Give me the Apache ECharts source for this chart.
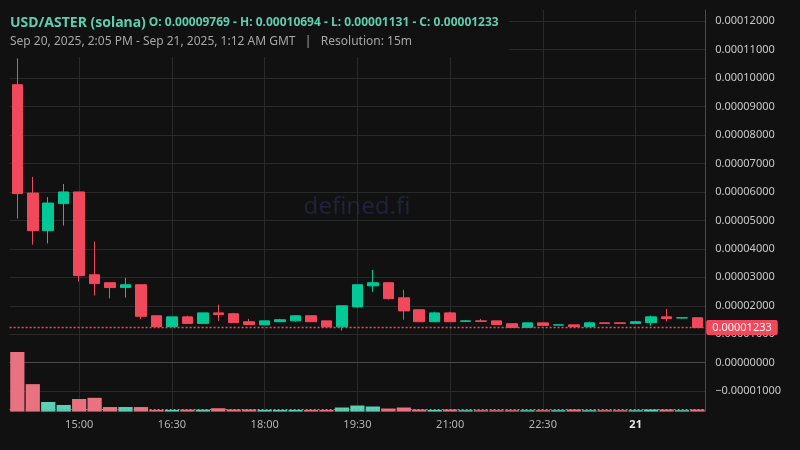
<!DOCTYPE html>
<html>
<head>
<meta charset="utf-8">
<script src="https://cdn.jsdelivr.net/npm/echarts@6/dist/echarts.min.js"></script>
<style>
html,body{margin:0;padding:0;background:#111111;}
#c{width:800px;height:450px;}
</style>
</head>
<body>
<div id="c"></div>
<script>
// ---- data (15m candles, Sep 20 14:00 -> Sep 21 01:00 GMT) ----
const times = ['14:00','14:15','14:30','14:45','15:00','15:15','15:30','15:45','16:00','16:15',
  '16:30','16:45','17:00','17:15','17:30','17:45','18:00','18:15','18:30','18:45',
  '19:00','19:15','19:30','19:45','20:00','20:15','20:30','20:45','21:00','21:15',
  '21:30','21:45','22:00','22:15','22:30','22:45','23:00','23:15','23:30','23:45',
  '00:00','00:15','00:30','00:45','01:00'];
const opens = [9.769e-5,5.96e-5,4.64e-5,5.59e-5,6.00e-5,3.09e-5,2.81e-5,2.64e-5,2.74e-5,1.65e-5,
  1.27e-5,1.61e-5,1.38e-5,1.75e-5,1.72e-5,1.44e-5,1.33e-5,1.44e-5,1.47e-5,1.65e-5,
  1.47e-5,1.26e-5,1.96e-5,2.70e-5,2.81e-5,2.28e-5,1.86e-5,1.44e-5,1.75e-5,1.45e-5,
  1.47e-5,1.47e-5,1.37e-5,1.24e-5,1.40e-5,1.32e-5,1.33e-5,1.27e-5,1.40e-5,1.40e-5,
  1.38e-5,1.41e-5,1.61e-5,1.57e-5,1.58e-5];
const closes = [5.94e-5,4.64e-5,5.61e-5,6.00e-5,3.06e-5,2.78e-5,2.64e-5,2.74e-5,1.63e-5,1.27e-5,
  1.61e-5,1.38e-5,1.75e-5,1.69e-5,1.41e-5,1.34e-5,1.47e-5,1.51e-5,1.65e-5,1.44e-5,
  1.26e-5,2.00e-5,2.74e-5,2.81e-5,2.25e-5,1.82e-5,1.44e-5,1.75e-5,1.44e-5,1.47e-5,
  1.45e-5,1.34e-5,1.24e-5,1.40e-5,1.31e-5,1.33e-5,1.27e-5,1.40e-5,1.38e-5,1.38e-5,
  1.44e-5,1.61e-5,1.55e-5,1.58e-5,1.233e-5];
const lows = [5.06e-5,4.15e-5,4.19e-5,4.82e-5,2.85e-5,2.36e-5,2.26e-5,2.29e-5,1.53e-5,1.27e-5,
  1.27e-5,1.38e-5,1.38e-5,1.47e-5,1.41e-5,1.34e-5,1.33e-5,1.44e-5,1.44e-5,1.44e-5,
  1.26e-5,1.131e-5,1.94e-5,2.49e-5,2.22e-5,1.51e-5,1.44e-5,1.44e-5,1.44e-5,1.45e-5,
  1.45e-5,1.34e-5,1.24e-5,1.24e-5,1.31e-5,1.32e-5,1.27e-5,1.27e-5,1.38e-5,1.38e-5,
  1.38e-5,1.30e-5,1.45e-5,1.54e-5,1.233e-5];
const highs = [10.694e-5,6.53e-5,5.82e-5,6.28e-5,6.00e-5,4.25e-5,2.81e-5,2.98e-5,2.74e-5,1.65e-5,
  1.61e-5,1.65e-5,1.75e-5,2.04e-5,1.75e-5,1.54e-5,1.47e-5,1.54e-5,1.65e-5,1.65e-5,
  1.47e-5,2.00e-5,2.74e-5,3.26e-5,2.81e-5,2.56e-5,1.86e-5,1.79e-5,1.79e-5,1.50e-5,
  1.54e-5,1.47e-5,1.37e-5,1.40e-5,1.40e-5,1.33e-5,1.33e-5,1.44e-5,1.40e-5,1.40e-5,
  1.47e-5,1.65e-5,1.89e-5,1.58e-5,1.58e-5];
const volumes = [100,46,16,11,21,23,7.5,7.5,7.5,2.5,
  2.5,3,3,5.5,3.3,3.3,2.5,2.5,2.5,2.5,
  2.5,6.7,10,8.4,5,6.7,3.3,2.5,3.3,2.2,
  2.2,2.2,2.2,2.2,2.2,2.2,3.3,2.2,2.2,2.2,
  2.2,3.3,3.3,2.2,3.3];
const pairName = 'USD/ASTER (solana)';
const rangeText = 'Sep 20, 2025, 2:05 PM - Sep 21, 2025, 1:12 AM GMT   |   Resolution: 15m';

// ---- styling ----
const UP = '#00c896', DOWN = '#f2485c';
const VUP = '#5ecfb4', VDOWN = '#e8727f';
const FONT = 'Noto Sans';
const fmt = v => (Math.abs(v) < 1e-12 ? 0 : v).toFixed(8).replace('-', '\u2212');

const candleData = times.map((t, i) => [opens[i], closes[i], lows[i], highs[i]]);
const volData = volumes.map((v, i) => ({ value: v, itemStyle: { color: closes[i] >= opens[i] ? VUP : VDOWN } }));
const lastClose = closes[closes.length - 1];
const lastUp = closes[closes.length - 1] >= opens[opens.length - 1];
const hi = Math.max(...highs), lo = Math.min(...lows);
const ohlc = 'O: ' + fmt(opens[0]) + ' - H: ' + fmt(hi) + ' - L: ' + fmt(lo) + ' - C: ' + fmt(lastClose);
const labelIdx = idx => idx % 6 === 4;

const chart = echarts.init(document.getElementById('c'), null, { renderer: 'canvas' });
chart.setOption({
  animation: false,
  backgroundColor: '#111111',
  textStyle: { fontFamily: FONT },
  title: {
    left: 0, top: 0,
    text: '{a|' + pairName + '}{b|' + ohlc + '}',
    subtext: rangeText,
    backgroundColor: '#111111',
    padding: [12, 10, 8, 10],
    itemGap: 9,
    textStyle: {
      rich: {
        a: { fontSize: 14, color: '#5ccfb0', fontFamily: FONT, lineHeight: 22, padding: [0, 3, 0, 0] },
        b: { fontSize: 12, color: '#5ccfb0', fontFamily: FONT, lineHeight: 22 }
      }
    },
    subtextStyle: { color: '#a6a6a6', fontSize: 12, fontFamily: FONT, lineHeight: 14 }
  },
  graphic: [{
    type: 'text', x: 357, y: 207, z: 0, silent: true,
    style: { text: 'defined.fi', fill: '#1e2338', font: '24px "Noto Sans"', textAlign: 'center', textVerticalAlign: 'middle' }
  }],
  grid: [
    { left: 9.6, right: 94.8, top: 10, bottom: 38.5 },
    { left: 9.6, right: 94.8, top: 352, bottom: 38.5 }
  ],
  xAxis: [
    {
      type: 'category', gridIndex: 0, data: times, boundaryGap: true,
      axisLine: { show: true, lineStyle: { color: '#4a4a4a' } },
      axisTick: { show: false },
      axisLabel: {
        interval: labelIdx, color: '#b4b4b4', fontSize: 11, margin: 8,
        formatter: v => v === '00:00' ? '{d|21}' : v,
        rich: { d: { fontWeight: 'bold', color: '#e6e6e6', fontSize: 11 } }
      },
      splitLine: { show: true, interval: labelIdx, alignWithLabel: true, lineStyle: { color: '#2a2a2a' } }
    },
    { type: 'category', gridIndex: 1, data: times, boundaryGap: true, show: false }
  ],
  yAxis: [
    {
      type: 'value', gridIndex: 0, position: 'right',
      min: -1.715e-5, max: 12.393e-5, splitNumber: 14,
      axisLine: { show: true, lineStyle: { color: '#4a4a4a' } },
      axisTick: { show: false },
      axisLabel: { color: '#c8c8c8', fontSize: 11, margin: 10, showMinLabel: false, showMaxLabel: false, formatter: fmt },
      splitLine: { show: true, showMaxLine: false, lineStyle: { color: '#2a2a2a' } }
    },
    { type: 'value', gridIndex: 1, min: 0, max: 100, show: false }
  ],
  series: [
    {
      type: 'bar', xAxisIndex: 1, yAxisIndex: 1, data: volData,
      barCategoryGap: '8%',
      markLine: {
        silent: true, symbol: ['none', 'none'], precision: 4,
        data: [{ yAxis: volumes[volumes.length - 1] }],
        lineStyle: { color: lastUp ? VUP : VDOWN, type: [2, 2], width: 1, opacity: 1 },
        label: { show: false }
      }
    },
    {
      type: 'candlestick', xAxisIndex: 0, yAxisIndex: 0, data: candleData,
      barWidth: 11,
      itemStyle: { color: UP, color0: DOWN, borderColor: UP, borderColor0: DOWN, borderWidth: 1 },
      markLine: {
        silent: true, symbol: ['none', 'none'], precision: 12,
        data: [{ yAxis: lastClose }],
        lineStyle: { color: lastUp ? UP : DOWN, type: [2, 2], width: 1.4, opacity: 1 },
        label: {
          position: 'end', distance: 1, formatter: fmt(lastClose),
          color: '#f6f6f6', backgroundColor: lastUp ? UP : DOWN, padding: [2, 6, 2, 6],
          fontSize: 11, fontFamily: FONT, borderRadius: 2
        }
      }
    }
  ]
});
</script>
</body>
</html>
